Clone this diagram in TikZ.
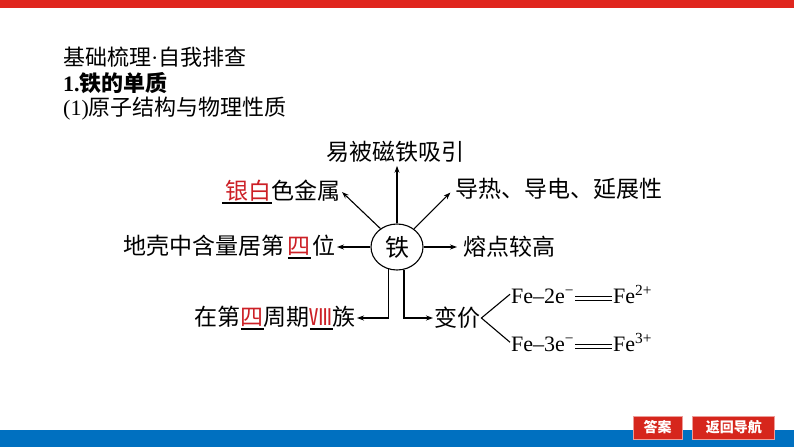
\documentclass[tikz,border=0pt]{standalone}
\usepackage{fontspec}
\setmainfont{Liberation Serif}
\newfontfamily\cjk{Noto Sans CJK SC}
\usepackage{xcolor}
\usepackage{tikz}
\usetikzlibrary{
  arrows.meta,
  positioning,
  shapes.geometric
}
\definecolor{bandred}{RGB}{224,38,30}
\definecolor{bandblue}{RGB}{0,112,192}
\definecolor{keyred}{RGB}{204,32,38}
\definecolor{btnred}{RGB}{214,38,28}
\newcommand{\keyfill}[1]{\setbox0\hbox{\textcolor{keyred}{#1}}\rlap{\rule[-3.6pt]{\wd0}{1.1pt}}\box0}
\newcommand{\longeq}{\hspace{1pt}\rlap{\rule[2.2pt]{37pt}{1.1pt}}\rule[6.2pt]{37pt}{1.1pt}\hspace{1pt}}
\tikzset{
  head/.style={anchor=west,inner sep=0pt,font=\fontsize{22}{26}\selectfont},
  fact/.style={inner sep=1pt,font=\fontsize{23}{27}\selectfont\cjk},
  eqn/.style={anchor=base west,inner sep=1pt,font=\fontsize{22}{26}\selectfont},
  core/.style={draw,ellipse,line width=1.1pt,minimum width=52pt,minimum height=46pt,
    inner sep=0pt,font=\fontsize{24}{28}\selectfont\cjk},
  link/.style={-{Stealth[length=7pt,width=5pt]},line width=1.1pt},
  fork/.style={line width=1.1pt},
  navbtn/.style={fill=btnred,draw=btnred!45!white,line width=0.8pt,text=white,
    minimum height=23pt,inner sep=0pt,font=\fontsize{14}{16}\selectfont\cjk\bfseries}
}

\begin{document}
\begin{tikzpicture}[x=1pt,y=-1pt]
  \useasboundingbox (0,0) rectangle (794,447);
  \fill[bandred] (0,0) rectangle (794,7.5);
  \fill[bandblue] (0,430) rectangle (794,447);
  \node[head] (title) at (63,57) {{\cjk 基础梳理}·{\cjk 自我排查}};
  \node[head] (unit) at (63,83) {\bfseries 1.{\cjk 铁的单质}};
  \node[head] (topic) at (63,109) {(1){\cjk 原子结构与物理性质}};
  \node[core] (fe) at (397,247) {铁};
  \node[fact] (magnet) at (395,152) {易被磁铁吸引};
  \node[fact,anchor=east] (colour) at (342,192) {\keyfill{\hspace{4pt}银白}色金属};
  \node[fact,anchor=west] (conduct) at (454,189) {导热、导电、延展性};
  \node[fact,anchor=east] (crust) at (337,247) {地壳中含量居第\hspace{3pt}\keyfill{四}\hspace{2pt}位};
  \node[fact,anchor=west] (melt) at (462,247) {熔点较高};
  \node[fact,anchor=east] (period) at (357,318) {在第\keyfill{四}周期\keyfill{Ⅷ}族};
  \node[fact,anchor=west] (valence) at (433,318) {变价};
  \node[eqn] (lose2) at (510,303) {Fe–2e\textsuperscript{−}\longeq Fe\textsuperscript{2+}};
  \node[eqn] (lose3) at (510,351) {Fe–3e\textsuperscript{−}\longeq Fe\textsuperscript{3+}};
  \draw[link,shorten >=2pt] (fe.north) -- (fe.north |- magnet.south);
  \draw[link] (fe.132) -- (colour.east);
  \draw[link,shorten >=5pt] (fe.47) -- (conduct.west);
  \draw[link] (fe.west) -- (crust.east);
  \draw[link,shorten >=5pt] (fe.east) -- (melt.west);
  \draw[link] (fe.250) |- (period.east);
  \draw[link] (fe.287) |- (valence.west);
  \draw[fork] (lose2.west) -- (valence.east) -- (lose3.west);
  \node[navbtn,minimum width=49pt] (answer) at (657.5,427.5) {答案};
  \node[navbtn,minimum width=82pt,right=10pt of answer] (guide) {返回导航};
\end{tikzpicture}
\end{document}
